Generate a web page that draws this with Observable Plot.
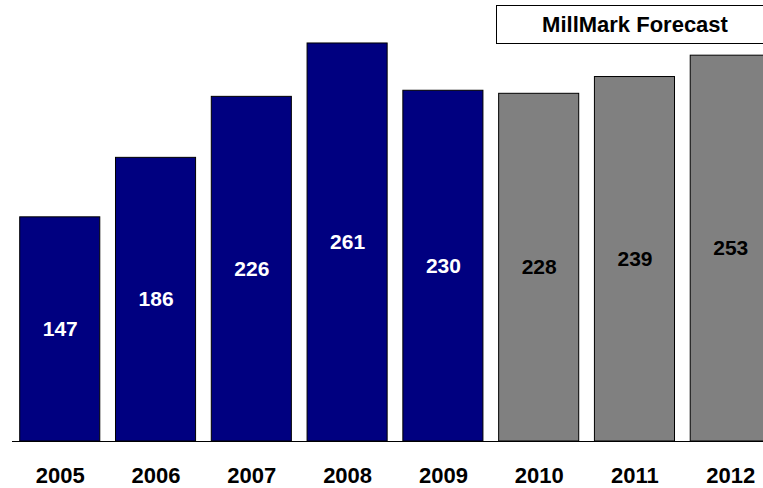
<!DOCTYPE html>
<html><head><meta charset="utf-8">
<script src="https://cdn.jsdelivr.net/npm/d3@7"></script>
<script src="https://cdn.jsdelivr.net/npm/@observablehq/plot@0.6"></script>
<style>
html,body{margin:0;padding:0;background:#fff;overflow:hidden;width:763px;height:488px;}
#wrap{position:relative;width:763px;height:488px;overflow:hidden;font-family:"Liberation Sans",Arial,sans-serif;}
#chart svg{max-width:none !important;display:block;}
#box{position:absolute;left:496px;top:5px;width:264px;height:37px;border:1px solid #000;background:#fff;font-weight:bold;font-size:22px;line-height:37px;text-align:center;padding-left:6px;box-sizing:content-box;}
</style></head>
<body><div id="wrap"><div id="chart"></div><div id="box">MillMark Forecast</div></div>
<script>
const years = ["2005","2006","2007","2008","2009","2010","2011","2012"];
const values = [147,186,226,261,230,228,239,253];
const kinds = ["actual","actual","actual","actual","actual","forecast","forecast","forecast"];
const data = years.map((y,i)=>({year:y, value:values[i], kind:kinds[i]}));
const chart = Plot.plot({
  width: 786, height: 488,
  marginLeft: 4, marginRight: 0, marginTop: 14, marginBottom: 47,
  style: {fontFamily: '"Liberation Sans", Arial, sans-serif', background: "#fff"},
  x: {domain: years, padding: 0.164, round: false, label: null},
  y: {domain: [0, 280], axis: null},
  marks: [
    Plot.barY(data, {x: "year", y: "value", fill: d => d.kind === "actual" ? "#000080" : "#808080", stroke: "#000", strokeWidth: 1}),
    Plot.ruleY([0], {stroke: "#000", strokeWidth: 1.2, insetLeft: 8}),
    Plot.text(data, {x: "year", y: d => d.value / 2, text: d => String(d.value), fill: d => d.kind === "actual" ? "#fff" : "#000", fontSize: 21, fontWeight: "bold"}),
    Plot.axisX({tickSize: 0, tickPadding: 26, fontSize: 22, fontWeight: "bold", fill: "#000", label: null})
  ]
});
document.getElementById("chart").appendChild(chart);
</script>
</body></html>
